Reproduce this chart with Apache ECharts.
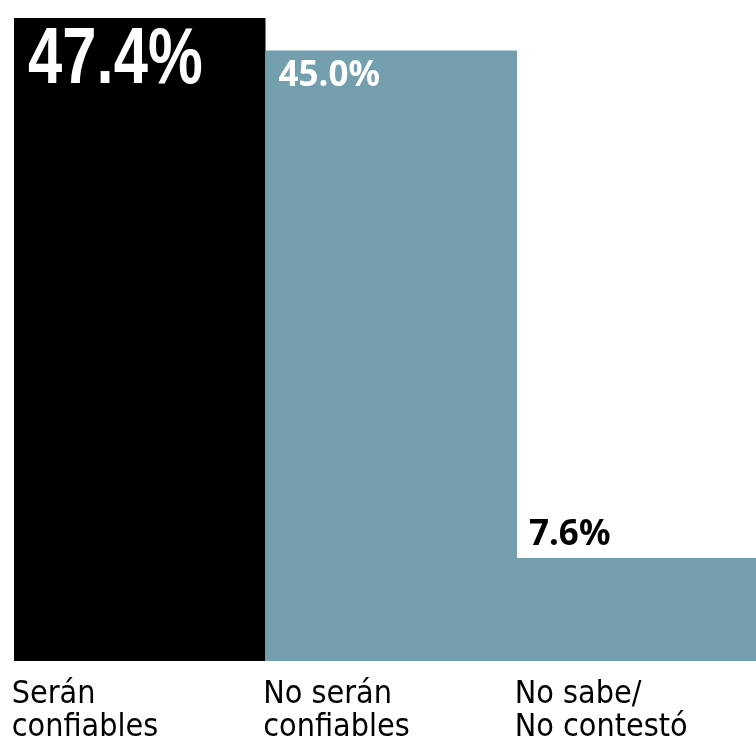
<!DOCTYPE html>
<html><head><meta charset="utf-8">
<script src="https://cdn.jsdelivr.net/npm/echarts@6/dist/echarts.min.js"></script>
<style>html,body{margin:0;padding:0;background:#fff}#c{width:756px;height:745px}</style>
</head><body><div id="c"></div>
<script>
const categories = ['Serán\nconfiables', 'No serán\nconfiables', 'No sabe/\nNo contestó'];
const values = [47.4, 45.0, 7.6];
const valueLabels = ['47.4%', '45.0%', '7.6%'];

const barColors = ['#000000', '#749FAF', '#749FAF'];
const labelStyles = [
  {dx: 14, dy: 3, scaleX: 0.77, fill: '#fff', fontFamily: '"Liberation Sans",Arial,sans-serif', fontSize: 80, verticalAlign: 'top'},
  {dx: 13, dy: 8, scaleX: 1, fill: '#fff', fontFamily: '"Noto Sans",sans-serif', fontSize: 35, verticalAlign: 'top'},
  {dx: 12, dy: -5, scaleX: 1, fill: '#000', fontFamily: '"Noto Sans",sans-serif', fontSize: 35, verticalAlign: 'bottom'}
];

const chart = echarts.init(document.getElementById('c'));
chart.setOption({
  animation: false,
  grid: {left: 14, top: 18, width: 754.5, bottom: 84, containLabel: false, outerBoundsMode: 'none'},
  xAxis: {
    type: 'category',
    data: categories,
    axisLine: {show: false}, axisTick: {show: false},
    axisLabel: {
      margin: 17,
      interval: 0,
      formatter: v => v.split('\n').map(s => '{a|' + s + '}').join('\n'),
      rich: {a: {width: 256, align: 'left', fontFamily: '"DejaVu Sans Condensed",sans-serif', fontSize: 32, lineHeight: 33, color: '#000'}}
    }
  },
  yAxis: {type: 'value', min: 0, max: 47.4, show: false, splitLine: {show: false}},
  series: [{
    type: 'bar',
    barWidth: '100%',
    barCategoryGap: 0,
    data: values.map((v, i) => ({value: v, itemStyle: {color: barColors[i]}}))
  }, {
    type: 'custom',
    data: values.map((v, i) => [i, v]),
    z: 10,
    renderItem: function (params, api) {
      const i = params.dataIndex;
      const s = labelStyles[i];
      const p = api.coord([api.value(0), api.value(1)]);
      const band = api.size([1, 0])[0];
      const left = p[0] - band / 2;
      return {
        type: 'text',
        x: left + s.dx,
        y: p[1] + s.dy,
        scaleX: s.scaleX,
        style: {
          text: valueLabels[i],
          fill: s.fill,
          fontFamily: s.fontFamily,
          fontWeight: 'bold',
          fontSize: s.fontSize,
          align: 'left',
          verticalAlign: s.verticalAlign
        }
      };
    }
  }]
});
</script></body></html>
